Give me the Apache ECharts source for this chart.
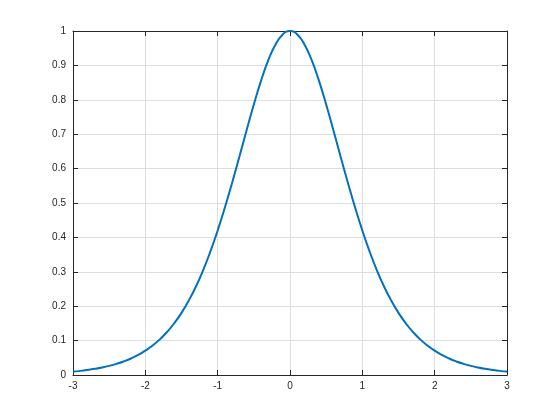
<!DOCTYPE html>
<html>
<head>
<meta charset="utf-8">
<script src="https://cdn.jsdelivr.net/npm/echarts@6/dist/echarts.min.js"></script>
<style>html,body{margin:0;padding:0;background:#fff;}#c{width:560px;height:420px;}</style>
</head>
<body>
<div id="c"></div>
<script>
var xValues = [-3.0,-2.9,-2.8,-2.7,-2.6,-2.5,-2.4,-2.3,-2.2,-2.1,-2.0,-1.9,-1.8,-1.7,-1.6,-1.5,-1.4,-1.3,-1.2,-1.1,-1.0,-0.9,-0.8,-0.7,-0.6,-0.5,-0.4,-0.3,-0.2,-0.1,0.0,0.1,0.2,0.3,0.4,0.5,0.6,0.7,0.8,0.9,1.0,1.1,1.2,1.3,1.4,1.5,1.6,1.7,1.8,1.9,2.0,2.1,2.2,2.3,2.4,2.5,2.6,2.7,2.8,2.9,3.0];
var yValues = [0.0099,0.0120,0.0147,0.0179,0.0218,0.0266,0.0324,0.0394,0.0479,0.0582,0.0707,0.0856,0.1036,0.1250,0.1505,0.1807,0.2162,0.2574,0.3050,0.3592,0.4200,0.4869,0.5591,0.6347,0.7116,0.7864,0.8556,0.9151,0.9610,0.9901,1.0000,0.9901,0.9610,0.9151,0.8556,0.7864,0.7116,0.6347,0.5591,0.4869,0.4200,0.3592,0.3050,0.2574,0.2162,0.1807,0.1505,0.1250,0.1036,0.0856,0.0707,0.0582,0.0479,0.0394,0.0324,0.0266,0.0218,0.0179,0.0147,0.0120,0.0099];
var xTicks = [-3,-2,-1,0,1,2,3];
var yTicks = [0,0.1,0.2,0.3,0.4,0.5,0.6,0.7,0.8,0.9,1];

var data = xValues.map(function(x,i){return [x, yValues[i]];});
var axisColor = '#262626';
var gridColor = '#dedede';
var font = 'Liberation Sans, Arial, Helvetica, sans-serif';

var chart = echarts.init(document.getElementById('c'), null, {renderer:'canvas'});
chart.setOption({
  animation:false,
  backgroundColor:'#fff',
  grid:{left:73,right:53,top:31,bottom:45,containLabel:false},
  xAxis:[{
    type:'value',min:-3,max:3,interval:1,position:'bottom',
    axisLine:{show:true,onZero:false,lineStyle:{color:axisColor,width:1}},
    axisTick:{show:true,inside:true,length:5,lineStyle:{color:axisColor}},
    axisLabel:{color:axisColor,fontSize:10,fontFamily:font,margin:6,
      formatter:function(v){return xTicks.indexOf(v)>=0?String(v):'';}},
    splitLine:{show:true,lineStyle:{color:gridColor,width:1}}
  },{
    type:'value',min:-3,max:3,interval:1,position:'top',
    axisLine:{show:true,onZero:false,lineStyle:{color:axisColor,width:1}},
    axisTick:{show:true,inside:true,length:5,lineStyle:{color:axisColor}},
    axisLabel:{show:false},splitLine:{show:false}
  }],
  yAxis:[{
    type:'value',min:0,max:1,interval:0.1,position:'left',
    axisLine:{show:true,onZero:false,lineStyle:{color:axisColor,width:1}},
    axisTick:{show:true,inside:true,length:5,lineStyle:{color:axisColor}},
    axisLabel:{color:axisColor,fontSize:10,fontFamily:font,margin:7,
      formatter:function(v){var r=Math.round(v*10)/10;return String(r);}},
    splitLine:{show:true,lineStyle:{color:gridColor,width:1}}
  },{
    type:'value',min:0,max:1,interval:0.1,position:'right',
    axisLine:{show:true,onZero:false,lineStyle:{color:axisColor,width:1}},
    axisTick:{show:true,inside:true,length:5,lineStyle:{color:axisColor}},
    axisLabel:{show:false},splitLine:{show:false}
  }],
  series:[{
    type:'line',data:data,xAxisIndex:0,yAxisIndex:0,
    smooth:true,showSymbol:false,symbol:'none',
    lineStyle:{color:'#0072BD',width:2},
    clip:false
  }]
});
</script>
</body>
</html>
